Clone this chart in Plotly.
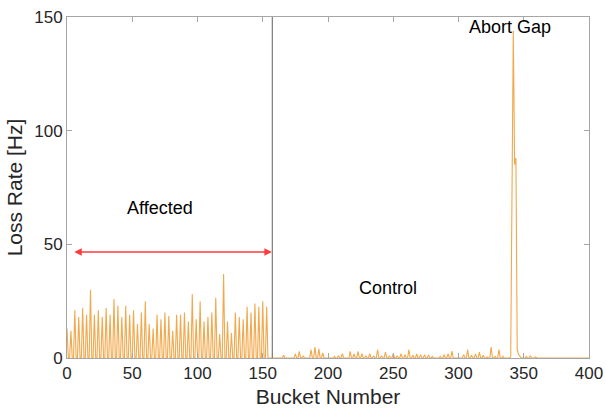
import plotly.graph_objects as go

# Non-zero samples of the loss rate; every other bucket reads zero.
affected_buckets = [0, 3, 6, 9, 12, 15, 18, 21, 24, 27, 30, 33, 36, 39, 42, 45, 48, 51,
                    54, 57, 60, 63, 66, 69, 72, 75, 78, 81, 84, 87, 90, 93, 96, 99, 102,
                    105, 108, 111, 114, 117, 120, 123, 126, 129, 132, 135, 138, 141, 144,
                    147, 150, 153]
affected_rates = [13, 12, 21, 18, 22, 19, 30, 19, 21, 18, 22, 19, 26, 23, 18, 23, 19, 21,
                  15, 20, 25, 15, 13, 19, 17, 20, 18.5, 12, 19, 19, 20, 16, 28, 17, 25,
                  16, 18, 20, 26.5, 10.5, 37, 16, 11, 20, 18, 17, 22.5, 20, 24,
                  22.5, 25, 22.5]

control_buckets = [166, 175, 178, 181, 187, 190, 193, 196, 205, 208, 211, 217, 220, 223,
                   226, 229, 232, 235, 238, 241, 244, 247, 250, 253, 256, 259, 262, 265,
                   268, 271, 274, 277, 280, 286, 289, 292, 295, 304, 307, 310, 313, 316,
                   319, 322, 325, 328, 331, 334, 340, 341, 342, 343, 344, 345, 346, 347,
                   352, 355, 359]
control_rates = [1.2, 1.8, 2.9, 1.0, 3.7, 4.8, 4.0, 2.2, 0.7, 1.0, 1.9, 2.9, 1.8, 2.9,
                 1.9, 1.0, 1.9, 1.0, 3.7, 1.0, 2.6, 1.0, 1.9, 1.0, 1.9, 1.5, 3.7, 1.2,
                 1.8, 1.5, 1.5, 1.3, 0.7, 0.7, 1.5, 1.8, 3.0, 1.5, 3.7, 1.2, 1.8, 2.6,
                 1.2, 0.5, 4.8, 0.7, 3.7, 0.7, 0.5, 97, 144, 85, 88, 4, 1.5, 0.8,
                 0.7, 1.0, 0.5]

n_buckets = 400
boundary_bucket = 157.3
arrow_start, arrow_end, arrow_level = 4.4, 157.0, 46.6
x_ticks = [0, 50, 100, 150, 200, 250, 300, 350, 400]
y_ticks = [0, 50, 100, 150]

rate = [0.0] * (n_buckets + 1)
for b, r in zip(affected_buckets + control_buckets, affected_rates + control_rates):
    rate[b] = r
bucket = list(range(n_buckets + 1))

FONT = "Liberation Sans, Arial, sans-serif"
fig = go.Figure()
fig.add_trace(go.Scatter(x=bucket, y=rate, mode="lines",
                         line=dict(color="#F2A84C", width=1.1), showlegend=False,
                         hoverinfo="skip"))

fig.add_shape(type="line", x0=boundary_bucket, x1=boundary_bucket, y0=0, y1=150,
              xref="x", yref="y", line=dict(color="#606060", width=1))

fig.add_annotation(x=arrow_end, y=arrow_level, ax=arrow_start, ay=arrow_level,
                   xref="x", yref="y", axref="x", ayref="y", text="",
                   showarrow=True, arrowside="end+start", arrowhead=2, arrowsize=1,
                   arrowwidth=1.5, arrowcolor="#FF3A3A")

for txt, xx, yy in [("Affected", 71, 65.8), ("Control", 246, 31), ("Abort Gap", 339.5, 145.8)]:
    fig.add_annotation(x=xx, y=yy, xref="x", yref="y", text=txt, showarrow=False,
                       font=dict(family=FONT, size=18, color="#000000"))

axis_common = dict(showline=True, linecolor="#A6A6A6", linewidth=1, mirror="ticks",
                   ticks="inside", ticklen=5, tickcolor="#A6A6A6", showgrid=False,
                   zeroline=False, automargin=False,
                   tickfont=dict(family=FONT, size=17, color="#262626"),
                   title_font=dict(family=FONT, size=21, color="#262626"))

fig.update_xaxes(range=[0, 400], tickvals=x_ticks, title_text="Bucket Number",
                 title_standoff=6, **axis_common)
fig.update_yaxes(range=[0, 150], tickvals=y_ticks, title_text="Loss Rate [Hz]",
                 title_standoff=5, **axis_common)

fig.update_layout(width=606, height=410, margin=dict(l=67, r=17, t=17, b=52),
                  plot_bgcolor="white", paper_bgcolor="white")

fig.write_html("out.html")
